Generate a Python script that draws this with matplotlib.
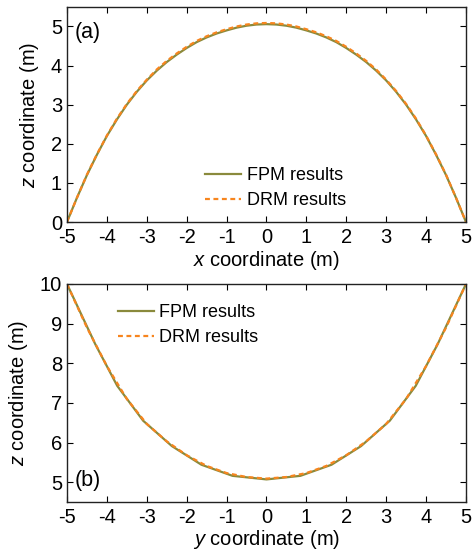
import matplotlib
matplotlib.use('Agg')
import matplotlib.pyplot as plt

plt.rcParams.update({
    'font.family': 'Liberation Sans',
    'font.size': 14.5,
    'axes.unicode_minus': False,
    'mathtext.fontset': 'custom',
    'mathtext.it': 'Liberation Sans:italic',
    'mathtext.rm': 'Liberation Sans',
    'xtick.direction': 'in',
    'ytick.direction': 'in',
    'xtick.top': True,
    'ytick.right': True,
    'xtick.major.size': 4,
    'ytick.major.size': 4,
    'xtick.major.pad': 4.5,
    'ytick.major.pad': 3.5,
    'axes.linewidth': 1.0,
})

# (a) arch in the x-z plane
x_a = [-5, -4.75, -4.5, -4.25, -4, -3.75, -3.5, -3.25, -3, -2.75, -2.5,
       -2.25, -2, -1.75, -1.5, -1.25, -1, -0.75, -0.5, -0.25, 0,
       0.25, 0.5, 0.75, 1, 1.25, 1.5, 1.75, 2, 2.25, 2.5,
       2.75, 3, 3.25, 3.5, 3.75, 4, 4.25, 4.5, 4.75, 5]
z_fpm_a = [0, 0.62, 1.20, 1.72, 2.20, 2.62, 3.00, 3.33, 3.62, 3.87, 4.09,
           4.28, 4.45, 4.60, 4.72, 4.82, 4.90, 4.97, 5.02, 5.05, 5.06,
           5.05, 5.02, 4.97, 4.90, 4.82, 4.72, 4.60, 4.45, 4.28, 4.09,
           3.87, 3.62, 3.33, 3.00, 2.62, 2.20, 1.72, 1.20, 0.62, 0]
z_drm_a = [0, 0.62, 1.21, 1.73, 2.21, 2.64, 3.02, 3.35, 3.64, 3.90, 4.12,
           4.31, 4.48, 4.63, 4.75, 4.85, 4.93, 5.00, 5.05, 5.08, 5.09,
           5.08, 5.05, 5.00, 4.93, 4.85, 4.75, 4.63, 4.48, 4.31, 4.12,
           3.90, 3.64, 3.35, 3.02, 2.64, 2.21, 1.73, 1.21, 0.62, 0]

# (b) cable in the y-z plane
y_fpm = [-5, -4.29, -3.74, -3.09, -2.37, -1.63, -0.85, 0,
         0.85, 1.63, 2.37, 3.09, 3.74, 4.29, 5]
z_fpm_b = [10, 8.48, 7.43, 6.55, 5.91, 5.44, 5.16, 5.07,
           5.16, 5.44, 5.91, 6.55, 7.43, 8.48, 10]
y_drm = [-5, -4.5, -4, -3.5, -3, -2.5, -2, -1.5, -1, -0.5, 0,
         0.5, 1, 1.5, 2, 2.5, 3, 3.5, 4, 4.5, 5]
z_drm_b = [10, 8.90, 7.93, 7.10, 6.47, 6.03, 5.68, 5.41, 5.23, 5.13, 5.09,
           5.13, 5.23, 5.41, 5.68, 6.03, 6.47, 7.10, 7.93, 8.90, 10]

fpm_color = '#8a8a3c'
drm_color = '#f7851e'

fig = plt.figure(figsize=(4.75, 5.55), dpi=100)
ax1 = fig.add_axes([0.141, 0.600, 0.840, 0.3875])
ax2 = fig.add_axes([0.141, 0.0955, 0.840, 0.3928])

for ax, xf, zf, xd, zd in [(ax1, x_a, z_fpm_a, x_a, z_drm_a),
                           (ax2, y_fpm, z_fpm_b, y_drm, z_drm_b)]:
    ax.plot(xf, zf, color=fpm_color, lw=1.6, label='FPM results')
    ax.plot(xd, zd, color=drm_color, lw=1.6, ls=(0, (2.2, 1.6)), label='DRM results')
    ax.set_xlim(-5, 5)
    ax.set_xticks(range(-5, 6))
    ax.set_ylabel(r'$\it{z}$ coordinate (m)', labelpad=7)
    for s in ax.spines.values():
        s.set_color('#222222')

ax1.set_ylim(0, 5.5)
ax1.set_yticks(range(0, 6))
ax1.set_xlabel(r'$\it{x}$ coordinate (m)', labelpad=1.5)
ax1.text(0.02, 0.93, '(a)', transform=ax1.transAxes, ha='left', va='top',
         fontsize=15.5)
ax1.legend(loc='lower left', bbox_to_anchor=(0.315, 0.0), frameon=False,
           handlelength=2.0, handletextpad=0.3, labelspacing=0.45,
           borderpad=0.2, fontsize=13)

ax2.set_ylim(4.5, 10)
ax2.set_yticks(range(5, 11))
ax2.set_xlabel(r'$\it{y}$ coordinate (m)', labelpad=0.5)
ax2.text(0.02, 0.05, '(b)', transform=ax2.transAxes, ha='left', va='bottom',
         fontsize=15.5)
ax2.legend(loc='upper left', bbox_to_anchor=(0.095, 0.965), frameon=False,
           handlelength=2.0, handletextpad=0.3, labelspacing=0.45,
           borderpad=0.2, fontsize=13)

fig.savefig('out.png', dpi=100)
